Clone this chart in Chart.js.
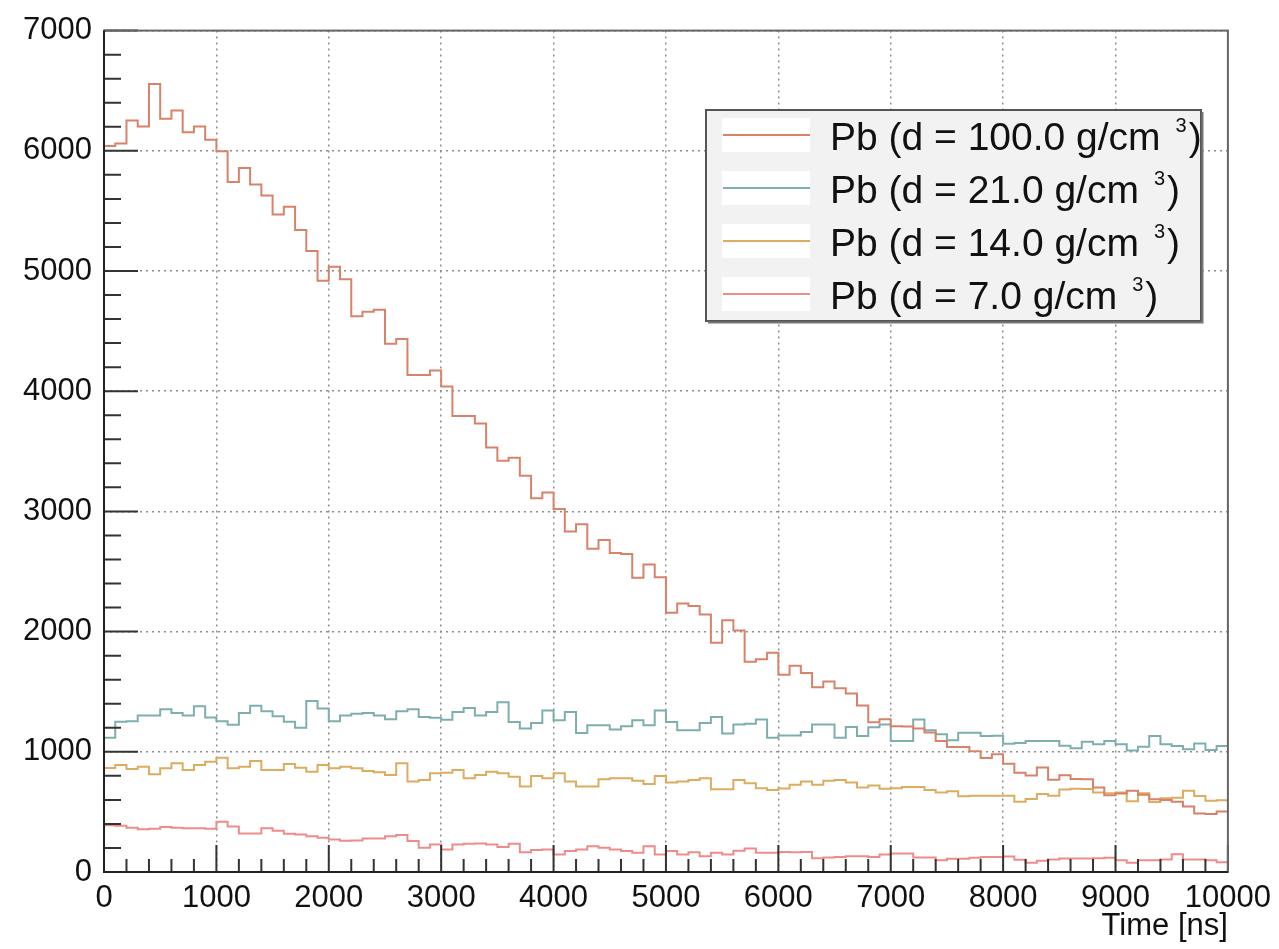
<!DOCTYPE html>
<html>
<head>
<meta charset="utf-8">
<title>Pb density - time spectrum</title>
<script src="https://cdn.jsdelivr.net/npm/chart.js@4.4.1/dist/chart.umd.min.js"></script>
<style>
  html, body { margin: 0; padding: 0; background: #fff; }
  #wrap { width: 1279px; height: 949px; }
</style>
</head>
<body>
<div id="wrap"><canvas id="chart" width="1279" height="949"></canvas></div>
<script>
// Axis ticks
const xTicks = [0, 1000, 2000, 3000, 4000, 5000, 6000, 7000, 8000, 9000, 10000];
const yTicks = [0, 1000, 2000, 3000, 4000, 5000, 6000, 7000];
const binWidth = 100; // ns per bin

// Series (counts per 100 ns bin)
const seriesLabels = [
    'Pb (d = 100.0 g/cm³)',
    'Pb (d = 21.0 g/cm³)',
    'Pb (d = 14.0 g/cm³)',
    'Pb (d = 7.0 g/cm³)'
];
const seriesColors = ['#d8826a', '#7eaeae', '#dcac60', '#ee8c8c'];

const density100 = [
    6040, 6060, 6253, 6203, 6556, 6266, 6335, 6155, 6203, 6092,
    5996, 5741, 5857, 5719, 5628, 5471, 5535, 5341, 5167, 4919,
    5035, 4932, 4623, 4662, 4678, 4394, 4435, 4135, 4135, 4173,
    4040, 3794, 3794, 3731, 3532, 3422, 3447, 3297, 3109, 3157,
    3021, 2833, 2894, 2690, 2762, 2654, 2646, 2447, 2558, 2452,
    2157, 2234, 2212, 2143, 1908, 2094, 2010, 1750, 1770, 1825,
    1640, 1716, 1656, 1537, 1584, 1529, 1485, 1386, 1245, 1270,
    1212, 1210, 1193, 1160, 1090, 1040, 1040, 1004, 948, 979,
    900, 825, 803, 869, 768, 804, 773, 772, 704, 638,
    654, 676, 642, 605, 600, 585, 545, 486, 482, 503
];
const density21 = [
    1117, 1250, 1255, 1302, 1302, 1353, 1323, 1302, 1378, 1286,
    1255, 1226, 1323, 1383, 1337, 1295, 1250, 1200, 1423, 1360,
    1255, 1301, 1317, 1323, 1301, 1271, 1337, 1353, 1289, 1284,
    1267, 1331, 1365, 1303, 1331, 1413, 1248, 1193, 1240, 1344,
    1262, 1331, 1157, 1220, 1220, 1185, 1212, 1262, 1220, 1344,
    1248, 1179, 1179, 1240, 1289, 1152, 1227, 1234, 1268, 1117,
    1136, 1136, 1165, 1227, 1227, 1117, 1206, 1131, 1204, 1227,
    1090, 1090, 1268, 1179, 1145, 1097, 1158, 1158, 1131, 1134,
    1066, 1073, 1090, 1090, 1090, 1051, 1030, 1083, 1062, 1090,
    1062, 1011, 1042, 1131, 1062, 1048, 1021, 1070, 1014, 1048
];
const density14 = [
    866, 890, 857, 876, 813, 863, 904, 849, 890, 918,
    951, 863, 876, 923, 849, 849, 898, 868, 835, 890,
    863, 876, 863, 841, 830, 808, 904, 753, 766, 821,
    826, 848, 780, 807, 835, 821, 793, 711, 799, 780,
    821, 752, 711, 711, 771, 780, 780, 760, 733, 799,
    744, 752, 766, 780, 689, 689, 766, 738, 697, 683,
    695, 725, 752, 725, 759, 766, 745, 704, 720, 693,
    697, 708, 708, 683, 662, 672, 630, 635, 635, 635,
    635, 585, 607, 649, 635, 687, 693, 691, 662, 655,
    662, 589, 655, 582, 614, 617, 676, 632, 593, 596
];
const density7 = [
    388, 385, 368, 355, 360, 375, 368, 365, 365, 360,
    418, 378, 320, 320, 363, 343, 318, 312, 298, 285,
    270, 260, 262, 278, 278, 298, 308, 258, 201, 229,
    187, 229, 235, 237, 229, 207, 234, 165, 182, 187,
    146, 174, 187, 215, 201, 187, 174, 160, 215, 146,
    174, 146, 165, 132, 160, 146, 177, 196, 160, 160,
    166, 165, 166, 115, 120, 125, 132, 132, 125, 146,
    153, 153, 121, 121, 98, 111, 111, 118, 125, 125,
    128, 102, 77, 94, 103, 112, 112, 112, 115, 118,
    98, 77, 98, 98, 105, 148, 105, 105, 98, 82
];

const fontFamily = '"Liberation Sans", Arial, Helvetica, sans-serif';

// Histogram -> stepped points: one point at each bin low edge, plus the upper edge
function toSteps(values) {
    const pts = values.map((v, i) => ({ x: i * binWidth, y: v }));
    pts.push({ x: values.length * binWidth, y: values[values.length - 1] });
    return pts;
}

// Frame and ROOT-style inner tick marks
const frameTicks = {
    id: 'frameTicks',
    afterDatasetsDraw(chart) {
        const { ctx, chartArea: a } = chart;
        const xs = chart.scales.x, ys = chart.scales.y;
        ctx.save();
        ctx.strokeStyle = '#333';
        ctx.lineWidth = 2;
        ctx.beginPath();
        // y axis ticks (major 1000, minor 200)
        for (let i = 0; i < yTicks.length; i++) {
            const py = ys.getPixelForValue(yTicks[i]);
            ctx.moveTo(a.left, py); ctx.lineTo(a.left + 34, py);
            if (i < yTicks.length - 1) {
                const step = (yTicks[i + 1] - yTicks[i]) / 5;
                for (let k = 1; k < 5; k++) {
                    const pm = ys.getPixelForValue(yTicks[i] + k * step);
                    ctx.moveTo(a.left, pm); ctx.lineTo(a.left + 17, pm);
                }
            }
        }
        // x axis ticks
        for (let i = 0; i < xTicks.length; i++) {
            const px = xs.getPixelForValue(xTicks[i]);
            ctx.moveTo(px, a.bottom); ctx.lineTo(px, a.bottom - 27);
            if (i < xTicks.length - 1) {
                const step = (xTicks[i + 1] - xTicks[i]) / 5;
                for (let k = 1; k < 5; k++) {
                    const pm = xs.getPixelForValue(xTicks[i] + k * step);
                    ctx.moveTo(pm, a.bottom); ctx.lineTo(pm, a.bottom - 13);
                }
            }
        }
        ctx.stroke();

        // frame
        ctx.strokeStyle = '#666';
        ctx.strokeRect(a.left, a.top, a.right - a.left, a.bottom - a.top);
        ctx.strokeStyle = '#222';
        ctx.beginPath();
        ctx.moveTo(a.left, a.top); ctx.lineTo(a.left, a.bottom); ctx.lineTo(a.right, a.bottom);
        ctx.stroke();
        ctx.restore();
    }
};

// Legend box in the upper right of the pad
const rootLegend = {
    id: 'rootLegend',
    afterDraw(chart) {
        const { ctx } = chart;
        const box = { x: 706, y: 110, w: 495, h: 211 };
        ctx.save();
        ctx.fillStyle = '#f2f2f2';
        ctx.fillRect(box.x, box.y, box.w, box.h);
        ctx.strokeStyle = '#555';
        ctx.lineWidth = 2;
        ctx.strokeRect(box.x, box.y, box.w, box.h);
        ctx.strokeStyle = '#777';
        ctx.beginPath();
        ctx.moveTo(box.x + 2, box.y + box.h + 1.5);
        ctx.lineTo(box.x + box.w + 1.5, box.y + box.h + 1.5);
        ctx.lineTo(box.x + box.w + 1.5, box.y + 2);
        ctx.stroke();

        const rowY = [135, 188, 241, 294];
        chart.data.datasets.forEach((ds, i) => {
            const y = rowY[i];
            ctx.fillStyle = '#fff';
            ctx.fillRect(722, y - 17, 88, 34);
            ctx.strokeStyle = ds.borderColor;
            ctx.lineWidth = 2;
            ctx.beginPath();
            ctx.moveTo(723, y); ctx.lineTo(810, y);
            ctx.stroke();

            const [main] = ds.label.split('³');
            ctx.fillStyle = '#111';
            ctx.textBaseline = 'alphabetic';
            ctx.textAlign = 'left';
            ctx.font = '39px ' + fontFamily;
            const base = y + 15;
            ctx.fillText(main, 830, base);
            let tx = 830 + ctx.measureText(main).width + 15;
            ctx.font = '20px ' + fontFamily;
            ctx.fillText('3', tx, base - 18);
            tx += ctx.measureText('3').width + 2;
            ctx.font = '39px ' + fontFamily;
            ctx.fillText(')', tx, base);
        });
        ctx.restore();
    }
};

const datasets = [density100, density21, density14, density7].map((vals, i) => ({
    label: seriesLabels[i],
    data: toSteps(vals),
    borderColor: seriesColors[i],
    backgroundColor: seriesColors[i],
    borderWidth: 2,
    pointRadius: 0,
    stepped: true,
    fill: false
}));

new Chart(document.getElementById('chart'), {
    type: 'line',
    data: { datasets: datasets },
    options: {
        responsive: false,
        animation: false,
        layout: { padding: { top: 29, right: 46, bottom: 0, left: 0 } },
        plugins: {
            legend: { display: false },
            tooltip: { enabled: false }
        },
        scales: {
            x: {
                type: 'linear',
                min: 0,
                max: 10000,
                afterBuildTicks: s => { s.ticks = xTicks.map(v => ({ value: v })); },
                afterFit: s => { s.height = 77; },
                ticks: {
                    autoSkip: false,
                    maxRotation: 0,
                    padding: 8,
                    color: '#111',
                    font: { size: 31, family: fontFamily },
                    callback: v => String(v)
                },
                grid: { color: '#8e8e8e', lineWidth: 1.5, drawTicks: false },
                border: { display: false, dash: [2, 4] },
                title: {
                    display: true,
                    text: 'Time [ns]',
                    align: 'end',
                    color: '#111',
                    font: { size: 31, family: fontFamily },
                    padding: { top: 0, bottom: 4 }
                }
            },
            y: {
                min: 0,
                max: 7000,
                afterBuildTicks: s => { s.ticks = yTicks.map(v => ({ value: v })); },
                afterFit: s => { s.width = 104; },
                ticks: {
                    autoSkip: false,
                    padding: 12,
                    color: '#111',
                    font: { size: 31, family: fontFamily },
                    callback: v => String(v)
                },
                grid: { color: '#8e8e8e', lineWidth: 1.5, drawTicks: false },
                border: { display: false, dash: [2, 4] }
            }
        }
    },
    plugins: [frameTicks, rootLegend]
});
</script>
</body>
</html>
